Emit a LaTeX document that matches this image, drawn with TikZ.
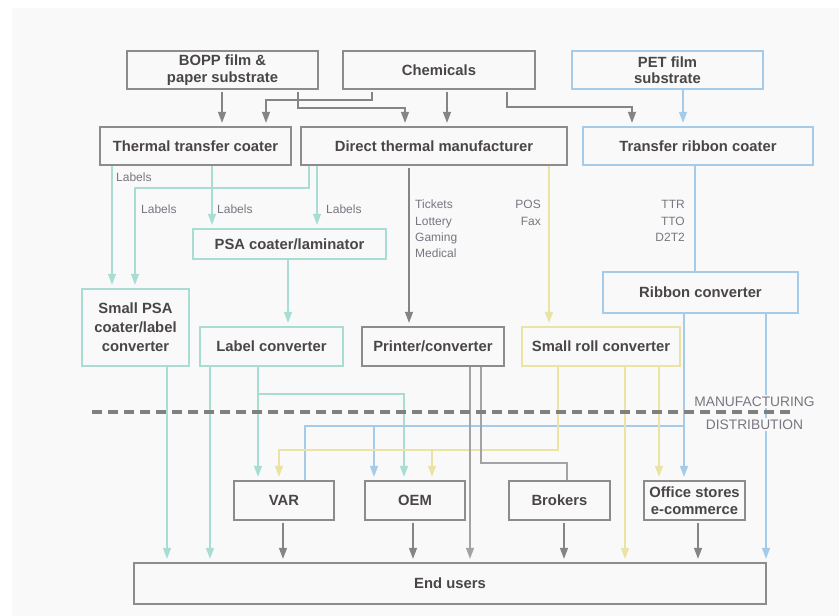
\documentclass[tikz,border=0pt]{standalone}
\usepackage{fontspec}
\setmainfont{Liberation Sans}
\usetikzlibrary{arrows.meta}

\definecolor{bg}{HTML}{F9F9F9}
\definecolor{txt}{HTML}{4A4646}
\definecolor{lbltxt}{HTML}{7A7580}
\definecolor{boxgray}{HTML}{8C8C8C}
\definecolor{linegray}{HTML}{858585}
\definecolor{lightgray}{HTML}{A3A3A3}
\definecolor{dashgray}{HTML}{808080}
\definecolor{tealline}{HTML}{A9DDD4}
\definecolor{blueline}{HTML}{A6CBE8}
\definecolor{yellowline}{HTML}{EAE3A3}

\begin{document}
\begin{tikzpicture}[
    x=1pt, y=-1pt,
    box/.style={rectangle, fill=bg, line width=1.3pt, text=txt, align=center, inner sep=0pt, font=\bfseries\fontsize{14.8}{16.5}\selectfont},
    graybox/.style={box, draw=boxgray},
    tealbox/.style={box, draw=tealline},
    bluebox/.style={box, draw=blueline},
    yellowbox/.style={box, draw=yellowline},
    tip/.style={-{Triangle[length=11pt, width=8pt]}, shorten >=3.5pt},
    flowgray/.style={tip, line width=1.3pt, draw=linegray, shorten <=2pt},
    flowprint/.style={tip, line width=1.3pt, draw=lightgray},
    flowteal/.style={tip, line width=1.3pt, draw=tealline},
    flowblue/.style={tip, line width=1.3pt, draw=blueline},
    flowyellow/.style={tip, line width=1.3pt, draw=yellowline},
    lbl/.style={inner sep=0pt, text=lbltxt, font=\fontsize{12}{16.3}\selectfont},
    zone/.style={fill=bg, inner sep=2pt, text=lbltxt, font=\fontsize{13.8}{16}\selectfont},
    divider/.style={draw=dashgray, line width=3.5pt, dash pattern=on 10pt off 6pt}
]
    % Page
    \useasboundingbox (0,0) rectangle (839,616);
    \fill[bg] (12,8) rectangle (839,616);

    % Raw materials
    \node (bopp) [graybox, minimum width=191, minimum height=38] at (222.5,70) {BOPP film \&\\paper substrate};
    \node (chem) [graybox, minimum width=192, minimum height=38] at (439,70) {Chemicals};
    \node (pet) [bluebox, minimum width=191, minimum height=38] at (667.5,70) {PET film\\substrate};

    % Coaters
    \node (ttc) [graybox, minimum width=191, minimum height=38] at (195.5,146) {Thermal transfer coater};
    \node (dtm) [graybox, minimum width=266, minimum height=38] at (434,146) {Direct thermal manufacturer};
    \node (trc) [bluebox, minimum width=230, minimum height=38] at (698,146) {Transfer ribbon coater};
    \node (psa) [tealbox, minimum width=193, minimum height=30] at (289.5,244) {PSA coater/laminator};
    \node (rconv) [bluebox, minimum width=195, minimum height=41] at (700.5,292.5) {Ribbon converter};

    % Converters
    \node (spsa) [tealbox, minimum width=107, minimum height=77, font=\bfseries\fontsize{14.8}{19}\selectfont] at (135.5,327.5) {Small PSA\\coater/label\\converter};
    \node (lconv) [tealbox, minimum width=143, minimum height=39] at (271.5,346.5) {Label converter};
    \node (pconv) [graybox, minimum width=142, minimum height=39] at (433,346.5) {Printer/converter};
    \node (sroll) [yellowbox, minimum width=158, minimum height=39] at (601,346.5) {Small roll converter};

    % Distribution
    \node (var) [graybox, minimum width=100, minimum height=39] at (284,500.5) {VAR};
    \node (oem) [graybox, minimum width=100, minimum height=39] at (415,500.5) {OEM};
    \node (brok) [graybox, minimum width=101, minimum height=39] at (559.5,500.5) {Brokers};
    \node (office) [graybox, minimum width=101, minimum height=39] at (694.5,500.5) {Office stores\\e-commerce};
    \node (users) [graybox, minimum width=632, minimum height=41] at (450,583.5) {End users};

    % Raw materials to coaters
    \draw [flowgray] (222,0 |- bopp.south) -- (222,0 |- ttc.north);
    \draw [flowgray] (372,0 |- chem.south) -- (372,100) -- (266,100) -- (266,0 |- ttc.north);
    \draw [flowgray] (298,0 |- bopp.south) -- (298,108) -- (405,108) -- (405,0 |- dtm.north);
    \draw [flowgray] (447,0 |- chem.south) -- (447,0 |- dtm.north);
    \draw [flowgray] (507,0 |- chem.south) -- (507,107) -- (632,107) -- (632,0 |- trc.north);
    \draw [flowblue] (683,0 |- pet.south) -- (683,0 |- trc.north);

    % Labels paths
    \draw [flowteal] (112,0 |- ttc.south) -- (112,0 |- spsa.north);
    \draw [flowteal] (212,0 |- ttc.south) -- (212,0 |- psa.north);
    \draw [flowteal] (309,0 |- dtm.south) -- (309,188) -- (135,188) -- (135,0 |- spsa.north);
    \draw [flowteal] (317,0 |- dtm.south) -- (317,0 |- psa.north);
    \draw [flowteal] (288,0 |- psa.south) -- (288,0 |- lconv.north);
    \node (lbla) [lbl, anchor=west] at (116,177) {Labels};
    \node (lblb) [lbl, anchor=west] at (141,209) {Labels};
    \node (lblc) [lbl, anchor=west] at (217,209) {Labels};
    \node (lbld) [lbl, anchor=west] at (326,209) {Labels};

    % Direct thermal and ribbon paths
    \draw [flowgray] (409,0 |- dtm.south) -- (409,0 |- pconv.north);
    \draw [flowyellow] (549,0 |- dtm.south) -- (549,0 |- sroll.north);
    \draw [flowblue, -, shorten >=0pt] (695,0 |- trc.south) -- (695,0 |- rconv.north);
    \node (tickets) [lbl, anchor=west, align=left] at (415,229) {Tickets\\Lottery\\Gaming\\Medical};
    \node (pos) [lbl, anchor=east, align=right] at (541,213) {POS\\Fax};
    \node (ttr) [lbl, anchor=east, align=right] at (685,221) {TTR\\TTO\\D2T2};

    % Converters to distribution
    \coordinate (tealbus) at (258,394);
    \coordinate (bluebus) at (684,426);
    \coordinate (yellowbus) at (558,450);
    \coordinate (printbus) at (481,463);
    \draw [flowteal] (167,0 |- spsa.south) -- (167,0 |- users.north);
    \draw [flowteal] (210,0 |- lconv.south) -- (210,0 |- users.north);
    \draw [flowteal] (258,0 |- lconv.south) -- (258,0 |- var.north);
    \draw [flowteal] (tealbus) -- (404,394) -- (404,0 |- oem.north);
    \draw [flowblue] (684,0 |- rconv.south) -- (684,0 |- office.north);
    \draw [flowblue, -, shorten >=0pt] (bluebus) -- (305,426) -- (305,0 |- var.north);
    \draw [flowblue] (374,426) -- (374,0 |- oem.north);
    \draw [flowblue] (766,0 |- rconv.south) -- (766,0 |- users.north);
    \draw [flowyellow] (558,0 |- sroll.south) -- (yellowbus) -- (279,450) -- (279,0 |- var.north);
    \draw [flowyellow] (432,450) -- (432,0 |- oem.north);
    \draw [flowyellow] (625,0 |- sroll.south) -- (625,0 |- users.north);
    \draw [flowyellow] (659,0 |- sroll.south) -- (659,0 |- office.north);
    \draw [flowprint] (470,0 |- pconv.south) -- (470,0 |- users.north);
    \draw [flowprint, -, shorten >=0pt] (481,0 |- pconv.south) -- (printbus) -- (567,463) -- (567,0 |- brok.north);

    % Distribution to end users
    \draw [flowgray] (283,0 |- var.south) -- (283,0 |- users.north);
    \draw [flowgray] (413,0 |- oem.south) -- (413,0 |- users.north);
    \draw [flowgray] (564,0 |- brok.south) -- (564,0 |- users.north);
    \draw [flowgray] (698,0 |- office.south) -- (698,0 |- users.north);

    % Manufacturing / distribution split
    \node (manu) [zone] at (754.5,401.5) {MANUFACTURING};
    \node (distr) [zone] at (754.5,424.5) {DISTRIBUTION};
    \draw [divider] (92,412) -- (794,412);

\end{tikzpicture}
\end{document}
